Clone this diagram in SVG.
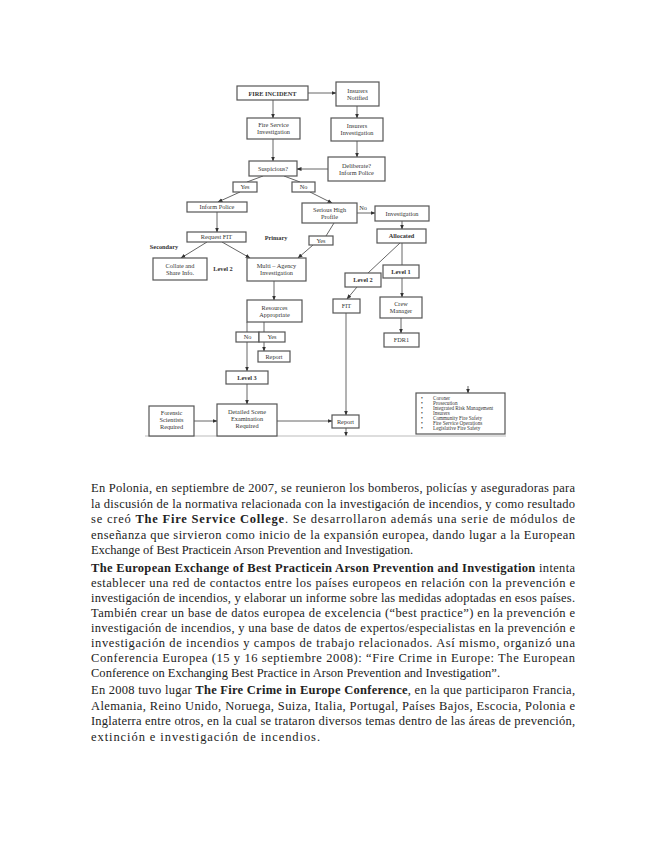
<svg xmlns="http://www.w3.org/2000/svg" width="655" height="848" viewBox="0 0 655 848">
<style>
.box{fill:#fff;stroke:#555;stroke-width:1.2}
.t{font-family:"Liberation Serif",serif;font-size:6.3px;fill:#333;text-anchor:middle}
.b{font-weight:bold}
.ln{fill:none;stroke:#666;stroke-width:1}
.p{font-family:"Liberation Serif",serif;font-size:12.5px;fill:#222}
.li{font-family:"Liberation Serif",serif;font-size:5.2px;fill:#333}
</style>
<defs>
<marker id="ah" markerWidth="5" markerHeight="5" refX="4.5" refY="2.5" orient="auto" markerUnits="userSpaceOnUse">
<path d="M0,0.5 L5,2.5 L0,4.5 Z" fill="#333"/>
</marker>
</defs>
<rect width="655" height="848" fill="#fff"/>

<g id="connectors">
<line class="ln" x1="273" y1="100" x2="273" y2="118" marker-end="url(#ah)"/>
<line class="ln" x1="308" y1="93" x2="336" y2="93" marker-end="url(#ah)"/>
<line class="ln" x1="357" y1="106" x2="357" y2="118" marker-end="url(#ah)"/>
<line class="ln" x1="357" y1="141" x2="357" y2="157" marker-end="url(#ah)"/>
<line class="ln" x1="273" y1="139" x2="273" y2="161" marker-end="url(#ah)"/>
<line class="ln" x1="328" y1="169" x2="297" y2="169" marker-end="url(#ah)"/>
<line class="ln" x1="263" y1="176" x2="247" y2="182"/>
<line class="ln" x1="284" y1="176" x2="300" y2="182"/>
<line class="ln" x1="240" y1="192" x2="218" y2="202" marker-end="url(#ah)"/>
<line class="ln" x1="310" y1="192" x2="332" y2="203" marker-end="url(#ah)"/>
<line class="ln" x1="217" y1="212" x2="217" y2="232" marker-end="url(#ah)"/>
<line class="ln" x1="207" y1="242" x2="181" y2="258" marker-end="url(#ah)"/>
<line class="ln" x1="222" y1="242" x2="250" y2="258" marker-end="url(#ah)"/>
<line class="ln" x1="334" y1="223" x2="326" y2="236"/>
<line class="ln" x1="313" y1="245" x2="298" y2="258" marker-end="url(#ah)"/>
<line class="ln" x1="357" y1="213" x2="375" y2="213" marker-end="url(#ah)"/>
<line class="ln" x1="402" y1="221" x2="402" y2="229" marker-end="url(#ah)"/>
<line class="ln" x1="402" y1="243" x2="402" y2="297" marker-end="url(#ah)"/>
<line class="ln" x1="400" y1="243" x2="368" y2="273"/>
<line class="ln" x1="357" y1="287" x2="347" y2="299" marker-end="url(#ah)"/>
<line class="ln" x1="401" y1="318" x2="401" y2="333" marker-end="url(#ah)"/>
<line class="ln" x1="346" y1="313" x2="346" y2="415" marker-end="url(#ah)"/>
<line class="ln" x1="274" y1="281" x2="274" y2="300" marker-end="url(#ah)"/>
<line class="ln" x1="247" y1="322" x2="247" y2="371" marker-end="url(#ah)"/>
<line class="ln" x1="264" y1="322" x2="264" y2="332"/>
<line class="ln" x1="264" y1="342" x2="264" y2="351" marker-end="url(#ah)"/>
<line class="ln" x1="247" y1="384" x2="247" y2="404" marker-end="url(#ah)"/>
<line class="ln" x1="194" y1="421" x2="217" y2="421" marker-end="url(#ah)"/>
<line class="ln" x1="277" y1="421" x2="332" y2="421" marker-end="url(#ah)"/>
<line class="ln" x1="346" y1="428" x2="346" y2="436" marker-end="url(#ah)"/>
<line class="ln" x1="468" y1="386" x2="468" y2="393" marker-end="url(#ah)"/>
<line x1="145" y1="436" x2="506" y2="436" stroke="#bbb" stroke-width="1"/>
</g>

<g id="n-fire"><rect class="box" x="237" y="86" width="71" height="14"/><text class="t b" x="272.5" y="95.5" font-size="6.8">FIRE INCIDENT</text></g>
<g id="n-insN"><rect class="box" x="336" y="82" width="43" height="24"/><text class="t" x="357.5" y="92.6">Insurers<tspan x="357.5" dy="7">Notified</tspan></text></g>
<g id="n-fsi"><rect class="box" x="247" y="118" width="53" height="21"/><text class="t" x="273.5" y="127.1">Fire Service<tspan x="273.5" dy="7">Investigation</tspan></text></g>
<g id="n-insI"><rect class="box" x="331" y="118" width="52" height="23"/><text class="t" x="357" y="128.1">Insurers<tspan x="357" dy="7">Investigation</tspan></text></g>
<g id="n-susp"><rect class="box" x="249" y="161" width="48" height="15"/><text class="t" x="273" y="170.7">Suspicious?</text></g>
<g id="n-delib"><rect class="box" x="328" y="157" width="57" height="24"/><text class="t" x="356.5" y="167.6">Deliberate?<tspan x="356.5" dy="7">Inform Police</tspan></text></g>
<g id="n-yes1"><rect class="box" x="233" y="182" width="24" height="10"/><text class="t" x="245" y="189.2">Yes</text></g>
<g id="n-no1"><rect class="box" x="292" y="182" width="23" height="10"/><text class="t" x="303.5" y="189.2">No</text></g>
<g id="n-infp"><rect class="box" x="187" y="202" width="60" height="10"/><text class="t" x="217" y="209.2">Inform Police</text></g>
<g id="n-serious"><rect class="box" x="302" y="203" width="55" height="20"/><text class="t" x="329.5" y="211.6">Serious High<tspan x="329.5" dy="7">Profile</tspan></text></g>
<g id="l-no"><text class="t" x="363" y="210" font-size="5.5">No</text></g>
<g id="n-invest"><rect class="box" x="375" y="206" width="54" height="15"/><text class="t" x="402" y="215.7">Investigation</text></g>
<g id="n-reqfit"><rect class="box" x="187" y="232" width="59" height="10"/><text class="t" x="216.5" y="239.2">Request FIT</text></g>
<g id="n-alloc"><rect class="box" x="377" y="229" width="49" height="14"/><text class="t b" x="401.5" y="238.2">Allocated</text></g>
<g id="l-primary"><text class="t b" x="276" y="240">Primary</text></g>
<g id="n-yes2"><rect class="box" x="309" y="236" width="24" height="9"/><text class="t" x="321" y="242.7">Yes</text></g>
<g id="l-secondary"><text class="t b" x="164" y="249">Secondary</text></g>
<g id="n-collate"><rect class="box" x="153" y="258" width="54" height="22"/><text class="t" x="180" y="267.6">Collate and<tspan x="180" dy="7">Share Info.</tspan></text></g>
<g id="l-level2"><text class="t b" x="223" y="271">Level 2</text></g>
<g id="n-multi"><rect class="box" x="247" y="258" width="59" height="23"/><text class="t" x="276.5" y="268.1">Multi – Agency<tspan x="276.5" dy="7">Investigation</tspan></text></g>
<g id="n-level1"><rect class="box" x="383" y="265" width="36" height="13"/><text class="t b" x="401" y="273.7">Level 1</text></g>
<g id="n-level2b"><rect class="box" x="345" y="273" width="36" height="14"/><text class="t b" x="363" y="282.2">Level 2</text></g>
<g id="n-fit"><rect class="box" x="333" y="299" width="27" height="14"/><text class="t" x="346.5" y="308.2">FIT</text></g>
<g id="n-crew"><rect class="box" x="380" y="297" width="42" height="21"/><text class="t" x="401" y="306.1">Crew<tspan x="401" dy="7">Manager</tspan></text></g>
<g id="n-res"><rect class="box" x="247" y="300" width="55" height="22"/><text class="t" x="274.5" y="309.6">Resources<tspan x="274.5" dy="7">Appropriate</tspan></text></g>
<g id="n-no2"><rect class="box" x="236" y="332" width="23" height="10"/><text class="t" x="247.5" y="339.2">No</text></g>
<g id="n-yes3"><rect class="box" x="259" y="332" width="26" height="10"/><text class="t" x="272" y="339.2">Yes</text></g>
<g id="n-fdr"><rect class="box" x="384" y="333" width="35" height="14"/><text class="t" x="401.5" y="342.2">FDR1</text></g>
<g id="n-report1"><rect class="box" x="258" y="351" width="32" height="11"/><text class="t" x="274" y="358.7">Report</text></g>
<g id="n-level3"><rect class="box" x="226" y="371" width="42" height="13"/><text class="t b" x="247" y="379.7">Level 3</text></g>
<g id="n-forensic"><rect class="box" x="149" y="406" width="45" height="30"/><text class="t" x="171.5" y="415.2">Forensic<tspan x="171.5" dy="7">Scientists</tspan><tspan x="171.5" dy="7">Required</tspan></text></g>
<g id="n-detailed"><rect class="box" x="217" y="404" width="60" height="32"/><text class="t" x="247" y="414.2">Detailed Scene<tspan x="247" dy="7">Examination</tspan><tspan x="247" dy="7">Required</tspan></text></g>
<g id="n-report2"><rect class="box" x="332" y="415" width="27" height="13"/><text class="t" x="345.5" y="423.7">Report</text></g>
<g id="n-list"><rect class="box" x="416" y="393" width="89" height="41"/>
<text class="li" x="421" y="399.5">•<tspan x="433">Coroner</tspan></text>
<text class="li" x="421" y="404.5">•<tspan x="433">Prosecution</tspan></text>
<text class="li" x="421" y="409.5">•<tspan x="433">Integrated Risk Management</tspan></text>
<text class="li" x="421" y="414.5">•<tspan x="433">Insurers</tspan></text>
<text class="li" x="421" y="419.5">•<tspan x="433">Community Fire Safety</tspan></text>
<text class="li" x="421" y="424.5">•<tspan x="433">Fire Service Operations</tspan></text>
<text class="li" x="421" y="429.5">•<tspan x="433">Legislative Fire Safety</tspan></text>
</g>

<g id="body">
<text class="p" x="91" y="492" textLength="484" lengthAdjust="spacing">En Polonia, en septiembre de 2007, se reunieron los bomberos, policías y aseguradoras para</text>
<text class="p" x="91" y="508" textLength="484" lengthAdjust="spacing">la discusión de la normativa relacionada con la investigación de incendios, y como resultado</text>
<text class="p" x="91" y="523" textLength="484" lengthAdjust="spacing">se creó <tspan font-weight="bold">The Fire Service College</tspan>. Se desarrollaron además una serie de módulos de</text>
<text class="p" x="91" y="539" textLength="484" lengthAdjust="spacing">enseñanza que sirvieron como inicio de la expansión europea, dando lugar a la European</text>
<text class="p" x="91" y="554" textLength="322" lengthAdjust="spacing">Exchange of Best Practicein Arson Prevention and Investigation.</text>

<text class="p" x="91" y="572" textLength="484" lengthAdjust="spacing"><tspan font-weight="bold">The European Exchange of Best Practicein Arson Prevention and Investigation</tspan> intenta</text>
<text class="p" x="91" y="587" textLength="484" lengthAdjust="spacing">establecer una red de contactos entre los países europeos en relación con la prevención e</text>
<text class="p" x="91" y="602" textLength="484" lengthAdjust="spacing">investigación de incendios, y elaborar un informe sobre las medidas adoptadas en esos países.</text>
<text class="p" x="91" y="617" textLength="484" lengthAdjust="spacing">También crear un base de datos europea de excelencia (“best practice”) en la prevención e</text>
<text class="p" x="91" y="632" textLength="484" lengthAdjust="spacing">investigación de incendios, y una base de datos de expertos/especialistas en la prevención e</text>
<text class="p" x="91" y="647" textLength="484" lengthAdjust="spacing">investigación de incendios y campos de trabajo relacionados. Así mismo, organizó una</text>
<text class="p" x="91" y="662" textLength="484" lengthAdjust="spacing">Conferencia Europea (15 y 16 septiembre 2008): “Fire Crime in Europe: The European</text>
<text class="p" x="91" y="677" textLength="409" lengthAdjust="spacing">Conference on Exchanging Best Practice in Arson Prevention and Investigation”.</text>

<text class="p" x="91" y="694" textLength="484" lengthAdjust="spacing">En 2008 tuvo lugar <tspan font-weight="bold">The Fire Crime in Europe Conference</tspan>, en la que participaron Francia,</text>
<text class="p" x="91" y="710" textLength="484" lengthAdjust="spacing">Alemania, Reino Unido, Noruega, Suiza, Italia, Portugal, Países Bajos, Escocia, Polonia e</text>
<text class="p" x="91" y="725" textLength="484" lengthAdjust="spacing">Inglaterra entre otros, en la cual se trataron diversos temas dentro de las áreas de prevención,</text>
<text class="p" x="91" y="741" textLength="229" lengthAdjust="spacing">extinción e investigación de incendios.</text>
</g>
</svg>
